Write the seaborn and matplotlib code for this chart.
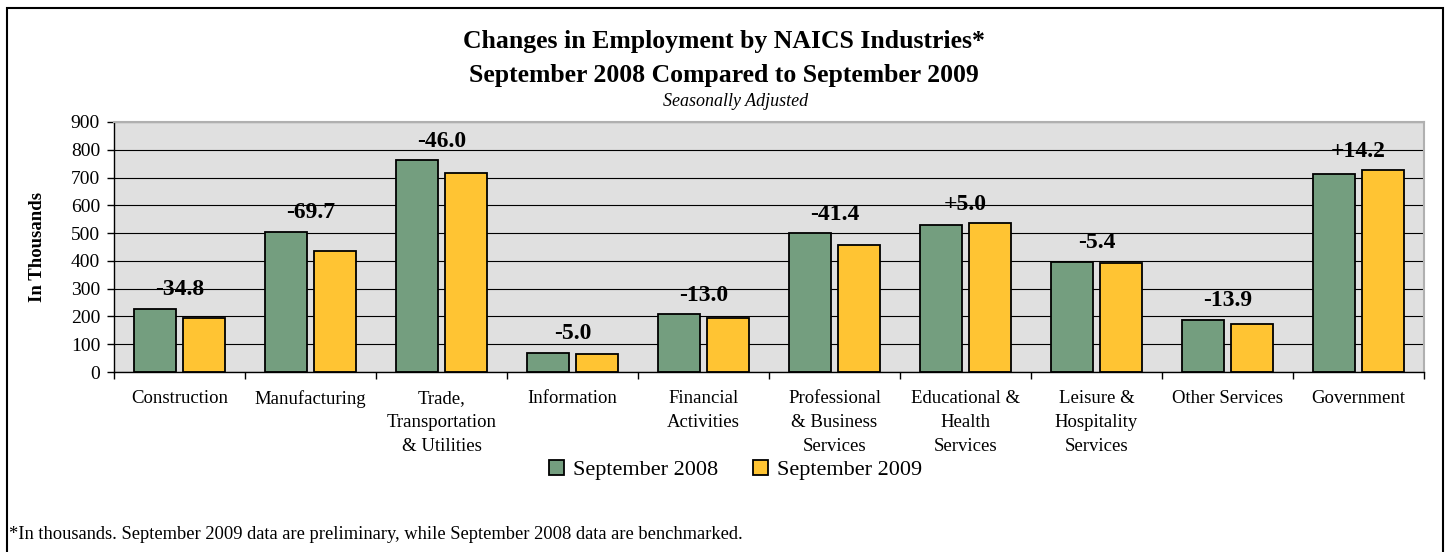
import seaborn as sns
import pandas as pd
import numpy as np
import matplotlib.pyplot as plt
from matplotlib.patches import Rectangle

# Values (thousands)
industries = ["Construction", "Manufacturing", "Trade,\nTransportation\n& Utilities",
              "Information", "Financial\nActivities", "Professional\n& Business\nServices",
              "Educational &\nHealth\nServices", "Leisure &\nHospitality\nServices",
              "Other Services", "Government"]
sep_2008 = [228, 505, 763, 70, 209, 500, 531, 397, 188, 713]
sep_2009 = [193, 435, 717, 65, 196, 459, 536, 392, 174, 727]
changes = [-34.8, -69.7, -46.0, -5.0, -13.0, -41.4, 5.0, -5.4, -13.9, 14.2]
periods = ["September 2008", "September 2009"]
colors = ["#749e7f", "#ffc433"]

df = pd.DataFrame({
    "industry": industries * 2,
    "period": [periods[0]] * len(industries) + [periods[1]] * len(industries),
    "value": sep_2008 + sep_2009,
})

sns.set_theme(style="white")
plt.rcParams['font.family'] = ['Liberation Serif', 'DejaVu Serif']
plt.rcParams.update({"text.color": "black", "axes.labelcolor": "black",
                     "xtick.color": "black", "ytick.color": "black"})

fig = plt.figure(figsize=(14.45, 5.52), dpi=100)
ax = fig.add_axes([0.0789, 0.326, 0.9066, 0.453])

sns.barplot(data=df, x="industry", y="value", hue="period", palette=colors,
            width=0.74, gap=0.135, edgecolor="black", linewidth=1.3,
            saturation=1, ax=ax, legend=True)

ax.set_facecolor("#e0e0e0")
ax.set_ylim(0, 900)
ax.set_xlim(-0.5, len(industries) - 0.5)
ax.set_yticks(range(0, 901, 100))
ax.yaxis.grid(True, color="black", linewidth=0.8)
ax.set_axisbelow(True)
for s in ["left", "bottom"]:
    ax.spines[s].set_color("black")
    ax.spines[s].set_linewidth(1.0)
for s in ["top", "right"]:
    ax.spines[s].set_color("#b0b0b0")
    ax.spines[s].set_linewidth(1.5)

ax.tick_params(axis="y", length=5, width=1, color="black", direction="out",
               left=True, labelsize=14, pad=5)
ax.set_xticks(range(len(industries)))
ax.set_xticklabels(industries, fontsize=13.5, linespacing=1.55)
ax.tick_params(axis="x", which="major", length=0, pad=13)
ax.set_xticks(np.arange(-0.5, len(industries), 1), minor=True)
ax.tick_params(axis="x", which="minor", length=5, width=1, color="black",
               direction="out", bottom=True)
ax.set_xlabel("")
ax.set_ylabel("In Thousands", fontsize=13.5, fontweight="bold", labelpad=18)

# change labels above each pair
for i, c in enumerate(changes):
    top = max(sep_2008[i], sep_2009[i])
    ax.annotate(f"{c:+.1f}", (i, top), xytext=(0, 6), textcoords="offset points",
                ha="center", va="bottom", fontsize=17, fontweight="bold")

handles, labels = ax.get_legend_handles_labels()
ax.legend_.remove()
fig.legend(handles, labels, loc="center", bbox_to_anchor=(0.509, 0.148), ncol=2,
           frameon=False, fontsize=16, handlelength=0.65, handleheight=0.65,
           handletextpad=0.4, columnspacing=1.6)

fig.text(0.501, 0.924, "Changes in Employment by NAICS Industries*", ha="center",
         va="center", fontsize=18.5, fontweight="bold")
fig.text(0.501, 0.864, "September 2008 Compared to September 2009", ha="center",
         va="center", fontsize=18.5, fontweight="bold")
fig.text(0.509, 0.817, "Seasonally Adjusted", ha="center", va="center",
         fontsize=13, style="italic")
fig.text(0.006, 0.031, "*In thousands. September 2009 data are preliminary, while "
         "September 2008 data are benchmarked.", ha="left", va="center", fontsize=13.3)

fig.patches.append(Rectangle((0.005, -0.1), 0.9935, 1.086, transform=fig.transFigure,
                             fill=False, edgecolor="black", linewidth=1.5))

fig.savefig("out.png", dpi=100)
